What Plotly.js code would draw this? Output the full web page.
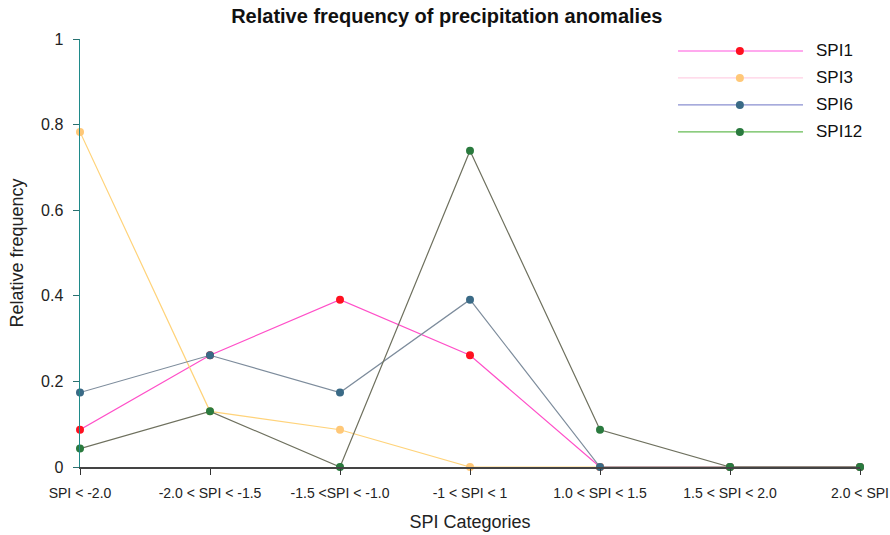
<!DOCTYPE html>
<html>
<head>
<meta charset="utf-8">
<script src="https://cdn.plot.ly/plotly-3.0.1.min.js"></script>
<style>
  html, body { margin: 0; padding: 0; background: #ffffff; }
  #chart { width: 890px; height: 535px; }
</style>
</head>
<body>
<div id="chart"></div>
<script>
// SPI classes along the x axis
const categories = [
  "SPI < -2.0", "-2.0 < SPI < -1.5", "-1.5 <SPI < -1.0", "-1 < SPI < 1",
  "1.0 < SPI < 1.5", "1.5 < SPI < 2.0", "2.0 < SPI"
];

// Relative frequency of each SPI class, per time scale
const spi1  = [0.087, 0.261, 0.391, 0.261, 0, 0, 0];
const spi3  = [0.783, 0.130, 0.087, 0,     0, 0, 0];
const spi6  = [0.174, 0.261, 0.174, 0.391, 0, 0, 0];
const spi12 = [0.043, 0.130, 0,     0.739, 0.087, 0, 0];

const seriesNames  = ["SPI1", "SPI3", "SPI6", "SPI12"];
const seriesValues = [spi1, spi3, spi6, spi12];
const lineColors   = ["#ff4fc8", "#ffd37a", "#7d8c9c", "#6e705e"];
const keyLineColors = ["#ff55dd", "#ffd0e4", "#8a8fd0", "#66bb55"];
const markerColors = ["#ff1020", "#ffc878", "#3a6a86", "#2a7a3e"];

const FONT = "Liberation Sans, Arial, sans-serif";

const traces = seriesNames.map((name, i) => ({
  type: "scatter",
  mode: "lines+markers",
  name: name,
  x: categories,
  y: seriesValues[i],
  line: { color: lineColors[i], width: 1.2 },
  marker: { color: markerColors[i], size: 8 },
  cliponaxis: false,
  showlegend: false
}));

// Hand-built key in the top-right corner: long line, centred dot, label
const shapes = [];
const annotations = [];
seriesNames.forEach((name, i) => {
  const yk = 0.972 - i * 0.063;
  shapes.push({
    type: "line", xref: "paper", yref: "paper",
    x0: 0.7667, x1: 0.9269, y0: yk, y1: yk,
    line: { color: keyLineColors[i], width: 1.2 }
  });
  shapes.push({
    type: "circle", xref: "paper", yref: "paper",
    xsizemode: "pixel", ysizemode: "pixel",
    xanchor: 0.846, yanchor: yk,
    x0: -4, x1: 4, y0: -4, y1: 4,
    fillcolor: markerColors[i], line: { width: 0 }
  });
  annotations.push({
    xref: "paper", yref: "paper", x: 0.9410, y: yk,
    xanchor: "left", yanchor: "middle", showarrow: false,
    text: name, font: { family: FONT, size: 17, color: "#111" }
  });
});

const layout = {
  width: 890,
  height: 535,
  margin: { l: 80, r: 30, t: 39, b: 68 },
  paper_bgcolor: "#ffffff",
  plot_bgcolor: "#ffffff",
  font: { family: FONT, color: "#222" },
  title: {
    text: "<b>Relative frequency of precipitation anomalies</b>",
    font: { family: FONT, size: 20, color: "#111" },
    x: 0.502, xanchor: "center", y: 0.97, yanchor: "middle"
  },
  xaxis: {
    type: "category",
    range: [0, 6],
    showgrid: false,
    zeroline: false,
    showline: true,
    linecolor: "#444",
    linewidth: 2,
    ticks: "outside",
    ticklen: 6,
    tickcolor: "#333",
    tickfont: { family: FONT, size: 14, color: "#222" },
    ticklabelstandoff: 6,
    title: { text: "SPI Categories", font: { family: FONT, size: 18, color: "#222" }, standoff: 16 }
  },
  yaxis: {
    range: [0, 1],
    tickvals: [0, 0.2, 0.4, 0.6, 0.8, 1],
    ticktext: ["0", "0.2", "0.4", "0.6", "0.8", "1"],
    showgrid: false,
    zeroline: false,
    showline: true,
    linecolor: "#1f8a8a",
    linewidth: 1.5,
    ticks: "outside",
    ticklen: 6,
    tickcolor: "#2a7070",
    tickfont: { family: FONT, size: 16, color: "#222" },
    ticklabelstandoff: 6,
    title: { text: "Relative frequency", font: { family: FONT, size: 18, color: "#222" }, standoff: 12 }
  },
  shapes: shapes,
  annotations: annotations,
  showlegend: false
};

Plotly.newPlot("chart", traces, layout, { displayModeBar: false, staticPlot: true });
</script>
</body>
</html>
